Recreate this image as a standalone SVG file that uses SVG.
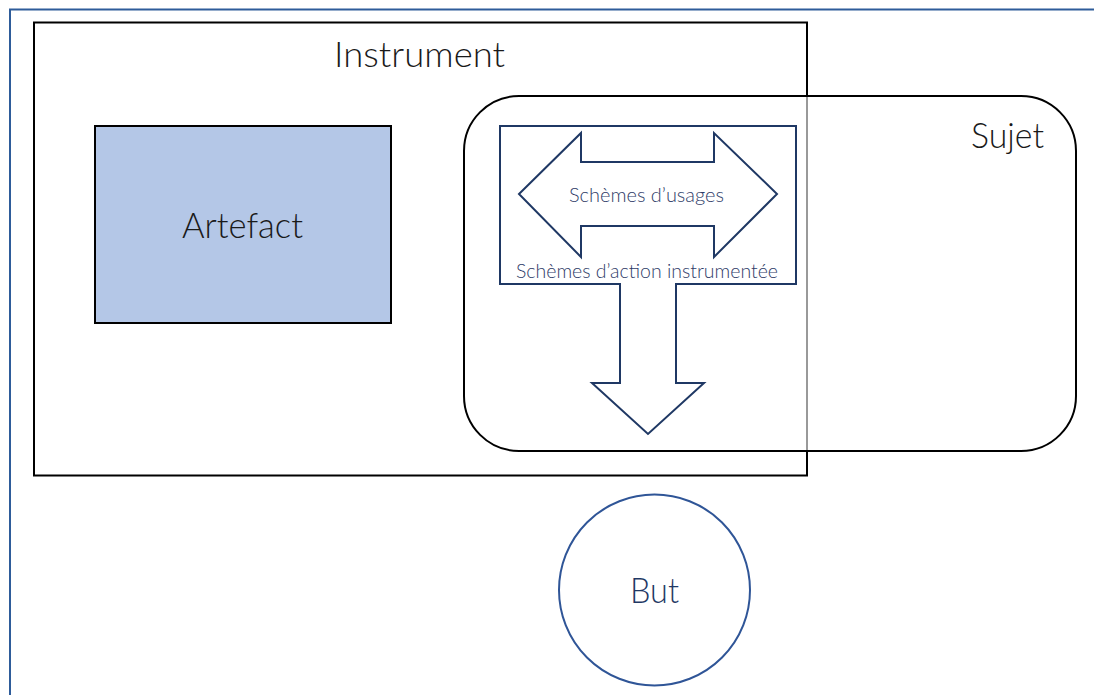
<svg xmlns="http://www.w3.org/2000/svg" width="1094" height="695" viewBox="0 0 1094 695">
  <style>
    .lbl { font-family: Lato, "Noto Sans", "Liberation Sans", sans-serif; font-weight: 300; text-anchor: middle; }
    .big { font-size: 36px; fill: #1a1a1a; }
    .small { font-size: 20px; fill: #2f3c68; }
    .blk { fill: none; stroke: #000; stroke-width: 2; }
    .blue { fill: #fff; stroke: #1f3864; stroke-width: 2; stroke-linejoin: miter; }
  </style>
  <rect width="1094" height="695" fill="#fff"/>
  <path id="frame" d="M10,695 L10,9.5 L1094,9.5" fill="none" stroke="#2e5c9a" stroke-width="2"/>
  <g id="instrument">
    <rect x="34" y="22.5" width="773" height="453" fill="#fff" class="blk" style="fill:#fff"/>
    <text class="lbl big" x="419.5" y="67" textLength="171" lengthAdjust="spacingAndGlyphs">Instrument</text>
  </g>
  <g id="artefact">
    <rect x="95" y="126" width="296" height="197" fill="#b4c7e7" stroke="#000" stroke-width="2"/>
    <text class="lbl big" x="242.5" y="238" textLength="121" lengthAdjust="spacingAndGlyphs">Artefact</text>
  </g>
  <g id="sujet">
    <rect x="464" y="96" width="612" height="355" rx="55" ry="55" fill="#fff" fill-opacity="0.6" stroke="#000" stroke-width="2"/>
    <text class="lbl big" x="1007.5" y="148" textLength="73" lengthAdjust="spacingAndGlyphs">Sujet</text>
  </g>
  <g id="connectors">
    <path id="action" class="blue" d="M620,284 L500,284 L500,126 L796,126 L796,284 L676,284 L676,383 L704,383 L648,434 L592,383 L620,383 Z"/>
    <path id="usages" class="blue" d="M519,194 L581,133 L581,162 L714,162 L714,133 L777,194 L714,257 L714,226 L581,226 L581,257 Z"/>
  </g>
  <g id="labels">
    <text class="lbl small" x="646.5" y="202" textLength="155" lengthAdjust="spacingAndGlyphs">Schèmes d’usages</text>
    <text class="lbl small" x="647" y="278" textLength="262" lengthAdjust="spacingAndGlyphs">Schèmes d’action instrumentée</text>
  </g>
  <g id="but">
    <circle cx="654.5" cy="590" r="95.5" fill="#fff" stroke="#2f5597" stroke-width="2"/>
    <text class="lbl big" x="654.5" y="603" textLength="49" lengthAdjust="spacingAndGlyphs" style="fill:#1f3864">But</text>
  </g>
</svg>
